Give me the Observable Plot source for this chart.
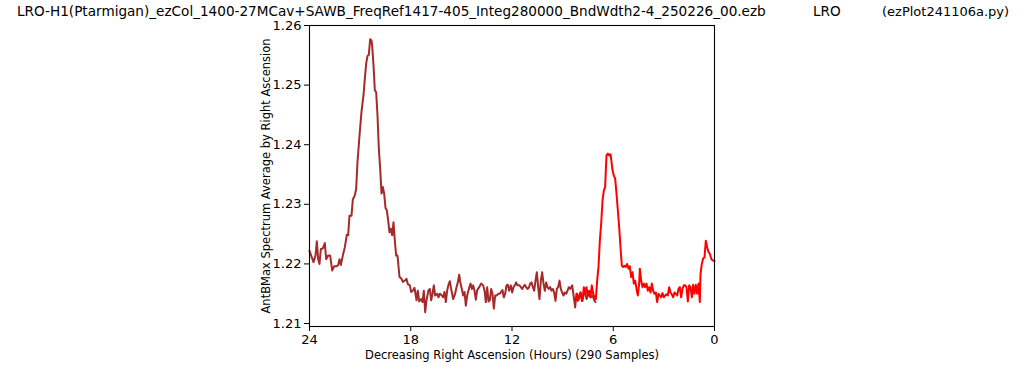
<!DOCTYPE html>
<html>
<head>
<meta charset="utf-8">
<script src="https://cdn.jsdelivr.net/npm/d3@7"></script>
<script src="https://cdn.jsdelivr.net/npm/@observablehq/plot@0.6"></script>
<style>
  html, body { margin: 0; padding: 0; background: #fff; }
  #wrap { position: relative; width: 1024px; height: 370px; font-family: "DejaVu Sans", sans-serif; }
  .tt { position: absolute; top: 3px; white-space: pre; font-size: 13.6px; color: #000; z-index: 2; }
</style>
</head>
<body>
<div id="wrap">
  <span class="tt" id="t1" style="left:17px"></span>
  <span class="tt" id="t2" style="left:813px"></span>
  <span class="tt" id="t3" style="left:882px; font-size:13px; top:3.5px"></span>
</div>
<script>
const titleParts = ["LRO-H1(Ptarmigan)_ezCol_1400-27MCav+SAWB_FreqRef1417-405_Integ280000_BndWdth2-4_250226_00.ezb", "LRO", "(ezPlot241106a.py)"];
const xLabel = "Decreasing Right Ascension (Hours) (290 Samples)";
const yLabel = "AntBMax Spectrum Average by Right Ascension";
const xTicks = [24, 18, 12, 6, 0];
const yTicks = [1.21, 1.22, 1.23, 1.24, 1.25, 1.26];

const brownHours = [
  24.000, 23.763, 23.644, 23.565, 23.486, 23.407, 23.328, 23.210, 23.091, 23.012,
  22.894, 22.775, 22.657, 22.538, 22.420, 22.301, 22.222, 22.143, 22.025, 21.906,
  21.788, 21.709, 21.630, 21.511, 21.432, 21.314, 21.235, 21.156, 21.037, 20.919,
  20.800, 20.721, 20.642, 20.563, 20.484, 20.405, 20.326, 20.286, 20.207, 20.128,
  20.049, 19.970, 19.891, 19.812, 19.733, 19.654, 19.575, 19.496, 19.417, 19.338,
  19.259, 19.180, 19.101, 19.022, 18.943, 18.864, 18.785, 18.667, 18.548, 18.469,
  18.350, 18.251, 18.172, 18.054, 17.975, 17.856, 17.777, 17.659, 17.580, 17.501,
  17.382, 17.303, 17.224, 17.145, 17.066, 16.948, 16.869, 16.790, 16.711, 16.632,
  16.553, 16.434, 16.355, 16.276, 16.158, 16.079, 16.000, 15.921, 15.842, 15.763,
  15.684, 15.605, 15.486, 15.367, 15.288, 15.209, 15.130, 15.051, 14.972, 14.893,
  14.814, 14.735, 14.656, 14.538, 14.459, 14.380, 14.301, 14.222, 14.143, 14.064,
  13.945, 13.827, 13.708, 13.629, 13.550, 13.471, 13.392, 13.313, 13.234, 13.155,
  13.076, 12.997, 12.918, 12.800, 12.721, 12.642, 12.563, 12.484, 12.405, 12.326,
  12.247, 12.168, 12.069, 11.990, 11.911, 11.832, 11.753, 11.674, 11.555, 11.476,
  11.397, 11.318, 11.239, 11.160, 11.081, 11.002, 10.923, 10.844, 10.765, 10.686,
  10.607, 10.528, 10.449, 10.370, 10.291, 10.212, 10.133, 10.054, 9.975, 9.896,
  9.817, 9.738, 9.659, 9.580, 9.501, 9.422, 9.343, 9.264, 9.185, 9.106,
  9.027, 8.948, 8.869, 8.790, 8.711, 8.632, 8.553, 8.435, 8.336, 8.257,
  8.178, 8.099, 8.020, 7.941, 7.862, 7.783, 7.704, 7.585, 7.467, 7.348,
  7.230, 7.111, 7.052
];
const brownValues = [
  1.2222, 1.2203, 1.2214, 1.2238, 1.2208, 1.2200, 1.2225, 1.2226, 1.2235, 1.2208,
  1.2214, 1.2214, 1.2189, 1.2196, 1.2196, 1.2198, 1.2208, 1.2198, 1.2214, 1.2228,
  1.2249, 1.2248, 1.2281, 1.2281, 1.2308, 1.2315, 1.2326, 1.2371, 1.2415, 1.2455,
  1.2483, 1.2511, 1.2536, 1.2549, 1.2551, 1.2577, 1.2575, 1.2566, 1.2533, 1.2491,
  1.2488, 1.2449, 1.2393, 1.2360, 1.2318, 1.2329, 1.2318, 1.2294, 1.2290, 1.2273,
  1.2253, 1.2259, 1.2248, 1.2270, 1.2239, 1.2214, 1.2214, 1.2178, 1.2175, 1.2170,
  1.2172, 1.2175, 1.2166, 1.2164, 1.2153, 1.2156, 1.2160, 1.2139, 1.2155, 1.2137,
  1.2141, 1.2136, 1.2155, 1.2119, 1.2139, 1.2156, 1.2158, 1.2139, 1.2150, 1.2164,
  1.2147, 1.2150, 1.2144, 1.2150, 1.2147, 1.2144, 1.2153, 1.2136, 1.2155, 1.2165,
  1.2171, 1.2158, 1.2141, 1.2150, 1.2161, 1.2169, 1.2182, 1.2167, 1.2158, 1.2147,
  1.2153, 1.2130, 1.2147, 1.2160, 1.2167, 1.2158, 1.2164, 1.2155, 1.2140, 1.2156,
  1.2161, 1.2167, 1.2164, 1.2155, 1.2136, 1.2161, 1.2137, 1.2139, 1.2158, 1.2150,
  1.2125, 1.2147, 1.2147, 1.2150, 1.2150, 1.2153, 1.2156, 1.2144, 1.2150, 1.2164,
  1.2165, 1.2155, 1.2164, 1.2152, 1.2161, 1.2164, 1.2169, 1.2164, 1.2164, 1.2161,
  1.2158, 1.2162, 1.2165, 1.2161, 1.2158, 1.2160, 1.2167, 1.2169, 1.2161, 1.2155,
  1.2172, 1.2186, 1.2161, 1.2141, 1.2172, 1.2186, 1.2167, 1.2155, 1.2169, 1.2161,
  1.2158, 1.2161, 1.2155, 1.2158, 1.2152, 1.2138, 1.2158, 1.2161, 1.2172, 1.2158,
  1.2152, 1.2147, 1.2152, 1.2150, 1.2155, 1.2161, 1.2158, 1.2164, 1.2144, 1.2127,
  1.2150, 1.2138, 1.2144, 1.2152, 1.2138, 1.2144, 1.2158, 1.2141, 1.2150, 1.2144,
  1.2147, 1.2138, 1.2136
];
const redHours = [
  8.237, 8.138, 8.040, 7.941, 7.822, 7.743, 7.664, 7.585, 7.506, 7.427,
  7.348, 7.269, 7.190, 7.111, 7.032, 6.953, 6.874, 6.795, 6.716, 6.637,
  6.558, 6.479, 6.440, 6.400, 6.321, 6.242, 6.163, 6.123, 6.044, 5.965,
  5.886, 5.807, 5.728, 5.649, 5.570, 5.491, 5.412, 5.333, 5.254, 5.175,
  5.096, 5.017, 4.938, 4.859, 4.780, 4.701, 4.622, 4.543, 4.464, 4.425,
  4.346, 4.267, 4.188, 4.109, 4.030, 3.951, 3.872, 3.793, 3.714, 3.635,
  3.556, 3.477, 3.398, 3.319, 3.240, 3.161, 3.082, 3.002, 2.923, 2.844,
  2.765, 2.686, 2.607, 2.528, 2.449, 2.370, 2.291, 2.212, 2.133, 2.054,
  1.975, 1.896, 1.817, 1.738, 1.659, 1.580, 1.501, 1.422, 1.343, 1.264,
  1.185, 1.106, 1.027, 0.948, 0.869, 0.830, 0.751, 0.672, 0.593, 0.514,
  0.435, 0.356, 0.277, 0.198, 0.119, 0.000
];
const redValues = [
  1.2138, 1.2150, 1.2141, 1.2152, 1.2138, 1.2161, 1.2150, 1.2161, 1.2147, 1.2155,
  1.2144, 1.2164, 1.2150, 1.2144, 1.2141, 1.2172, 1.2195, 1.2239, 1.2267, 1.2306,
  1.2323, 1.2329, 1.2357, 1.2382, 1.2385, 1.2382, 1.2384, 1.2376, 1.2357, 1.2348,
  1.2343, 1.2318, 1.2290, 1.2262, 1.2228, 1.2197, 1.2195, 1.2197, 1.2195, 1.2200,
  1.2192, 1.2196, 1.2178, 1.2186, 1.2167, 1.2172, 1.2158, 1.2147, 1.2167, 1.2192,
  1.2172, 1.2161, 1.2167, 1.2161, 1.2167, 1.2155, 1.2161, 1.2152, 1.2167, 1.2155,
  1.2150, 1.2152, 1.2136, 1.2150, 1.2147, 1.2144, 1.2151, 1.2144, 1.2147, 1.2149,
  1.2147, 1.2161, 1.2152, 1.2149, 1.2144, 1.2152, 1.2150, 1.2147, 1.2158, 1.2161,
  1.2144, 1.2158, 1.2164, 1.2164, 1.2161, 1.2137, 1.2164, 1.2161, 1.2144, 1.2165,
  1.2150, 1.2165, 1.2150, 1.2167, 1.2136, 1.2183, 1.2200, 1.2209, 1.2211, 1.2239,
  1.2228, 1.2220, 1.2217, 1.2209, 1.2206, 1.2205
];

const brown = brownHours.map((h, i) => ({h, v: brownValues[i]}));
const red = redHours.map((h, i) => ({h, v: redValues[i]}));

const chart = Plot.plot({
  width: 1024,
  height: 370,
  marginLeft: 309,
  marginRight: 310,
  marginTop: 25,
  marginBottom: 44,
  style: {fontFamily: "DejaVu Sans, sans-serif", fontSize: "13px", color: "#000", background: "transparent"},
  x: {domain: [24, 0]},
  y: {domain: [1.2095, 1.26]},
  marks: [
    Plot.axisX({ticks: xTicks, tickSize: 5, tickPadding: 3, tickFormat: d => String(d), label: null, fontSize: 13}),
    Plot.axisY({ticks: yTicks, tickSize: 5, tickPadding: 3, tickFormat: d => d.toFixed(2), label: null, fontSize: 13}),
    Plot.text([xLabel], {text: d => d, frameAnchor: "bottom", dy: 29, lineAnchor: "middle", fontSize: 11.5, fill: "#000"}),
    Plot.text([yLabel], {text: d => d, frameAnchor: "left", dx: -43, rotate: -90, lineAnchor: "middle", textAnchor: "middle", fontSize: 11.5, fill: "#000"}),
    Plot.line(brown, {x: "h", y: "v", stroke: "#a52a2a", strokeWidth: 2}),
    Plot.line(red, {x: "h", y: "v", stroke: "#ff0000", strokeWidth: 2}),
    Plot.frame({stroke: "#000", strokeWidth: 1.1})
  ]
});
document.getElementById("wrap").appendChild(chart);
chart.style.position = "absolute";
chart.style.left = "0";
chart.style.top = "0";
document.getElementById("t1").textContent = titleParts[0];
document.getElementById("t2").textContent = titleParts[1];
document.getElementById("t3").textContent = titleParts[2];
</script>
</body>
</html>
